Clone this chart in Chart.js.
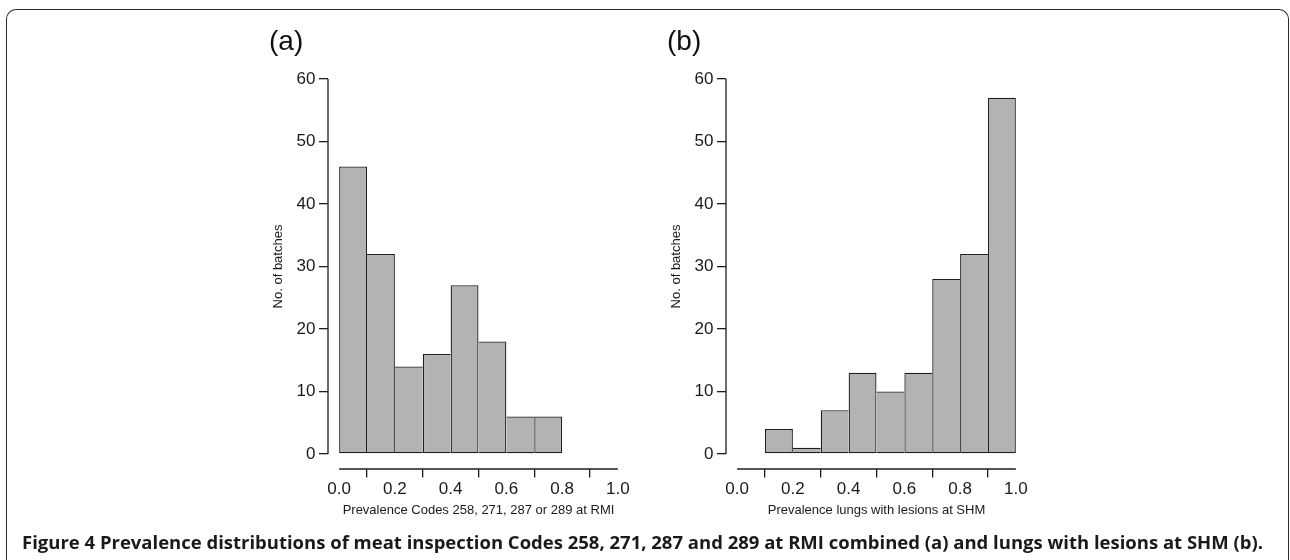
<!DOCTYPE html>
<html>
<head>
<meta charset="utf-8">
<script src="https://cdn.jsdelivr.net/npm/chart.js@4.4.1/dist/chart.umd.min.js"></script>
<style>
  html, body { margin:0; padding:0; background:#fff; }
  body { width:1290px; height:560px; position:relative; overflow:hidden; }
  #frame { position:absolute; left:6px; top:9px; width:1283px; height:620px; box-sizing:border-box;
           border:1.6px solid #2a2a2a; border-bottom:none; border-radius:10px 10px 0 0; }
  canvas { position:absolute; top:0; }
  #cA { left:0; }
  #cB { left:645px; }
  #caption { position:absolute; left:22px; top:533px; white-space:nowrap; font-family:"Open Sans","Noto Sans",sans-serif;
             font-weight:700; font-size:17px; line-height:20px; color:#1a1a1a; transform-origin:0 0; }
</style>
</head>
<body>
<div id="frame"></div>
<canvas id="cA" width="645" height="560"></canvas>
<canvas id="cB" width="645" height="560"></canvas>
<div id="caption">Figure 4 Prevalence distributions of meat inspection Codes 258, 271, 287 and 289 at RMI combined (a) and lungs with lesions at SHM (b).</div>
<script>
// ---- data ----
const binEdgesA = [0.0, 0.1, 0.2, 0.3, 0.4, 0.5, 0.6, 0.7, 0.8];
const countsA   = [46, 32, 14, 16, 27, 18, 6, 6];
const binEdgesB = [0.1, 0.2, 0.3, 0.4, 0.5, 0.6, 0.7, 0.8, 0.9, 1.0];
const countsB   = [4, 1, 7, 13, 10, 13, 28, 32, 57];
const xTicks = [0.0, 0.2, 0.4, 0.6, 0.8, 1.0];
const yTicks = [0, 10, 20, 30, 40, 50, 60];
const panelLabels = ['(a)', '(b)'];
const xTitles = ['Prevalence Codes 258, 271, 287 or 289 at RMI', 'Prevalence lungs with lesions at SHM'];
const yTitle = 'No. of batches';

// ---- style ----
const FONT = '"Liberation Sans", Arial, Helvetica, sans-serif';
const INK = '#1e1e1e';
const LW = 1.3;
Chart.defaults.font.family = FONT;
Chart.defaults.color = '#1a1a1a';

const axisLines = {
  id: 'axisLines',
  afterDraw(chart) {
    const {ctx, chartArea, scales: {x, y}} = chart;
    ctx.save();
    ctx.strokeStyle = INK;
    ctx.lineWidth = LW;
    ctx.beginPath();
    ctx.moveTo(chartArea.left, y.getPixelForValue(yTicks[0]));
    ctx.lineTo(chartArea.left, y.getPixelForValue(yTicks[yTicks.length - 1]));
    ctx.moveTo(x.getPixelForValue(xTicks[0]), chartArea.bottom);
    ctx.lineTo(x.getPixelForValue(xTicks[xTicks.length - 1]), chartArea.bottom);
    ctx.stroke();
    ctx.restore();
  }
};

function makeHist(canvas, label, edges, counts, xTitle, pad) {
  const pts = counts.map((c, i) => ({x: (edges[i] + edges[i + 1]) / 2, y: c}));
  return new Chart(canvas, {
    type: 'bar',
    data: {
      datasets: [{
        data: pts,
        backgroundColor: '#b3b3b3',
        borderColor: INK,
        borderSkipped: false,
        inflateAmount: 0,
        barPercentage: 1,
        categoryPercentage: 1,
        borderWidth: (ctx) => {
          const i = ctx.dataIndex;
          if (i === undefined) return LW;
          const prev = i > 0 ? counts[i - 1] : -1;
          const next = i < counts.length - 1 ? counts[i + 1] : -1;
          return {top: LW, bottom: LW, left: prev <= counts[i] ? LW : 0, right: next < counts[i] ? LW : 0};
        }
      }]
    },
    options: {
      responsive: false,
      animation: false,
      devicePixelRatio: 1,
      layout: {padding: pad},
      plugins: {
        legend: {display: false},
        tooltip: {enabled: false},
        title: {display: true, text: label, align: 'start', color: '#111',
                font: {size: 28, family: FONT, weight: 'normal', lineHeight: 1.2},
                padding: {top: 5.7, bottom: 4.7}}
      },
      scales: {
        x: {
          type: 'linear', min: -0.04, max: 1.04, offset: false,
          grid: {display: true, drawOnChartArea: false, drawTicks: true, tickLength: 8.5, color: INK, lineWidth: LW},
          border: {display: false},
          ticks: {font: {size: 17}, padding: 2, maxRotation: 0, autoSkip: false, callback: v => Number(v).toFixed(1)},
          afterBuildTicks: s => { s.ticks = xTicks.map(v => ({value: v})); },
          afterFit: s => { s.height = 56; },
          title: {display: true, text: xTitle, font: {size: 13}, padding: {top: 0, bottom: 7.2}}
        },
        y: {
          type: 'linear', min: -2.4, max: 62.4,
          grid: {display: true, drawOnChartArea: false, drawTicks: true, tickLength: 9, color: INK, lineWidth: LW},
          border: {display: false},
          ticks: {font: {size: 17}, padding: 3.5, autoSkip: false},
          afterBuildTicks: s => { s.ticks = yTicks.map(v => ({value: v})); },
          afterFit: s => { s.width = 59; },
          title: {display: true, text: yTitle, font: {size: 13}, padding: {top: 1.2, bottom: 0}}
        }
      }
    },
    plugins: [axisLines]
  });
}

makeHist(document.getElementById('cA'), panelLabels[0], binEdgesA, countsA, xTitles[0],
         {left: 269, top: 20, right: 16, bottom: 35});
makeHist(document.getElementById('cB'), panelLabels[1], binEdgesB, countsB, xTitles[1],
         {left: 22, top: 20, right: 263, bottom: 35});

// fit caption width to the reference span
const cap = document.getElementById('caption');
const w = cap.getBoundingClientRect().width;
cap.style.transform = 'scaleX(' + (1241 / w) + ')';
</script>
</body>
</html>
